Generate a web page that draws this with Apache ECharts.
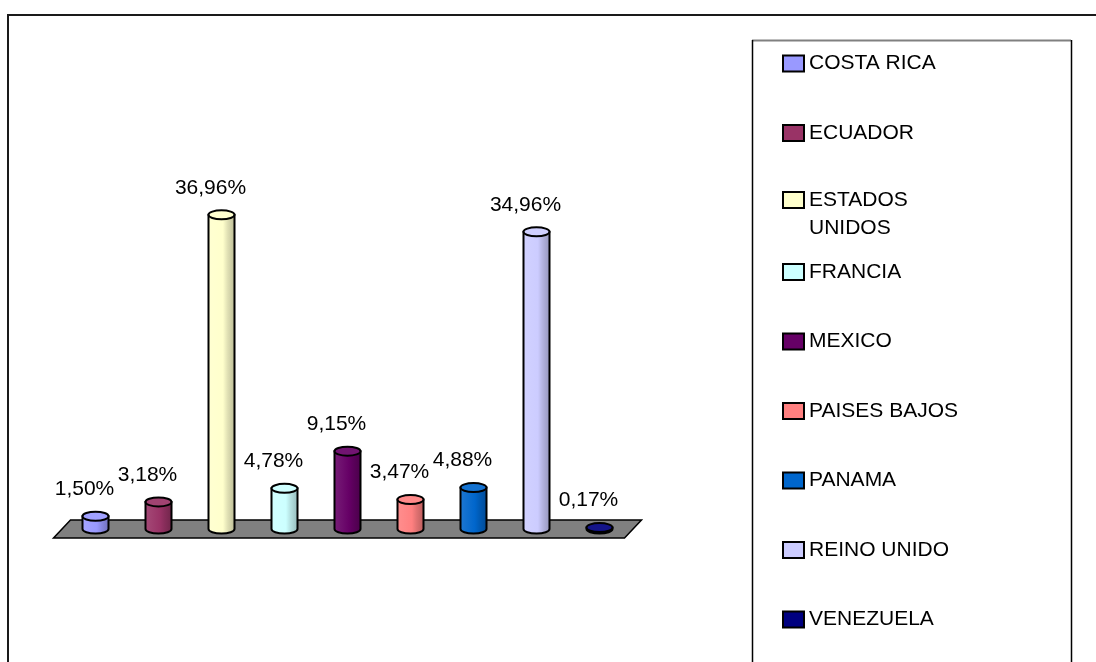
<!DOCTYPE html>
<html>
<head>
<meta charset="utf-8">
<title>Participación por país</title>
<script src="https://cdn.jsdelivr.net/npm/echarts@6/dist/echarts.min.js"></script>
<style>
  html, body { margin: 0; padding: 0; background: #fff; }
  #chart { width: 1096px; height: 662px; }
</style>
</head>
<body>
<div id="chart"></div>
<script>
// Countries and their share (percent)
const countries = ['COSTA RICA', 'ECUADOR', 'ESTADOS UNIDOS', 'FRANCIA', 'MEXICO',
                   'PAISES BAJOS', 'PANAMA', 'REINO UNIDO', 'VENEZUELA'];
const shares = [1.50, 3.18, 36.96, 4.78, 9.15, 3.47, 4.88, 34.96, 0.17];
const palette = ['#9999FF', '#993366', '#FFFFCC', '#CCFFFF', '#660066',
                 '#FF8080', '#0066CC', '#CCCCFF', '#000080'];

const FONT = 'Liberation Sans, Arial, sans-serif';
const FONT_SIZE = 21;

function shade(hex, f) {
  const n = parseInt(hex.slice(1), 16);
  let r = (n >> 16) & 255, g = (n >> 8) & 255, b = n & 255;
  if (f < 0) { r *= 1 + f; g *= 1 + f; b *= 1 + f; }
  else { r += (255 - r) * f; g += (255 - g) * f; b += (255 - b) * f; }
  return 'rgb(' + Math.round(r) + ',' + Math.round(g) + ',' + Math.round(b) + ')';
}

const K = 0.5523;
// half ellipse below a horizontal diameter, left to right
function lowerArc(cx, cy, rx, ry) {
  return 'C' + (cx - rx) + ',' + (cy + K * ry) + ' ' + (cx - K * rx) + ',' + (cy + ry) + ' ' + cx + ',' + (cy + ry) +
         'C' + (cx + K * rx) + ',' + (cy + ry) + ' ' + (cx + rx) + ',' + (cy + K * ry) + ' ' + (cx + rx) + ',' + cy;
}
function upperArc(cx, cy, rx, ry) {
  return 'C' + (cx + rx) + ',' + (cy - K * ry) + ' ' + (cx + K * rx) + ',' + (cy - ry) + ' ' + cx + ',' + (cy - ry) +
         'C' + (cx - K * rx) + ',' + (cy - ry) + ' ' + (cx - rx) + ',' + (cy - K * ry) + ' ' + (cx - rx) + ',' + cy;
}

function fmt(v) { return v.toFixed(2).replace('.', ',') + '%'; }

// 3D-looking cylinder for one country
function renderCylinder(params, api) {
  const idx = api.value(0);
  const val = api.value(1);
  const base = api.coord([idx, 0]);
  const top = api.coord([idx, val]);
  const cx = base[0], yb = base[1], yt = top[1];
  const rx = 13, ry = 4.5;
  const color = palette[params.seriesIndex - 1];
  const bodyPath = 'M' + (cx - rx) + ',' + yt + 'L' + (cx - rx) + ',' + yb +
                   lowerArc(cx, yb, rx, ry) + 'L' + (cx + rx) + ',' + yt + 'Z';
  const topPath = 'M' + (cx - rx) + ',' + yt + lowerArc(cx, yt, rx, ry) + upperArc(cx, yt, rx, ry) + 'Z';
  return {
    type: 'group',
    children: [
      {
        type: 'path',
        shape: { pathData: bodyPath },
        style: {
          fill: new echarts.graphic.LinearGradient(0, 0, 1, 0, [
            { offset: 0, color: shade(color, 0.12) },
            { offset: 0.55, color: color },
            { offset: 0.72, color: shade(color, -0.12) },
            { offset: 1, color: shade(color, -0.28) }
          ]),
          stroke: '#000',
          lineWidth: 2
        }
      },
      {
        type: 'path',
        shape: { pathData: topPath },
        style: { fill: shade(color, 0.08), stroke: '#000', lineWidth: 2 }
      },
      {
        type: 'text',
        style: {
          text: fmt(val),
          x: cx - 11,
          y: yt - 27,
          align: 'center',
          verticalAlign: 'middle',
          fill: '#000',
          font: FONT_SIZE + 'px ' + FONT
        }
      }
    ]
  };
}

// grey floor under the columns
function renderFloor(params, api) {
  const cs = params.coordSys;
  const y0 = api.coord([0, 0])[1];
  const xl = cs.x - 2, xr = cs.x + cs.width + 2;
  const dy = 9, dx = 8.5;
  return {
    type: 'polygon',
    shape: { points: [[xl + dx, y0 - dy], [xr + dx, y0 - dy], [xr - dx, y0 + dy], [xl - dx, y0 + dy]] },
    style: { fill: '#808080', stroke: '#000', lineWidth: 1.5 }
  };
}

const series = [{
  type: 'custom',
  name: 'floor',
  silent: true,
  renderItem: renderFloor,
  data: [[0, 0]],
  clip: false,
  z: 1
}];
countries.forEach((c, i) => {
  series.push({
    type: 'custom',
    name: c,
    renderItem: renderCylinder,
    itemStyle: { color: palette[i] },
    encode: { x: 0, y: 1 },
    data: [[i, shares[i]]],
    clip: false,
    z: 2
  });
});

// one legend block per entry so entries stay evenly spaced;
// the wrapped entry keeps its first line beside the swatch
// (an empty leading line centres "ESTADOS" on the swatch)
const LEG_TOP = 53, LEG_STEP = 69.5, LINE_H = 28, SW_H = 16;
const legends = countries.map((c, i) => {
  const twoLine = c === 'ESTADOS UNIDOS';
  const shift = twoLine ? (3 * LINE_H) / 2 - SW_H / 2 : 0;
  return {
    data: [c],
    left: 782,
    top: LEG_TOP + i * LEG_STEP - shift,
    orient: 'vertical',
    padding: 0,
    icon: 'rect',
    itemWidth: 21,
    itemHeight: SW_H,
    selectedMode: false,
    itemStyle: { borderColor: '#000', borderWidth: 2 },
    formatter: twoLine ? () => '\nESTADOS\nUNIDOS' : undefined,
    textStyle: Object.assign(
      { fontSize: FONT_SIZE, fontFamily: FONT, color: '#000' },
      twoLine ? { lineHeight: LINE_H } : {}
    )
  };
});

const chart = echarts.init(document.getElementById('chart'), null, { renderer: 'canvas' });
chart.setOption({
  backgroundColor: '#fff',
  animation: false,
  grid: { left: 64, right: 465, top: 189, bottom: 133 },
  xAxis: { type: 'category', data: countries, show: false },
  yAxis: { type: 'value', min: 0, max: 40, show: false },
  legend: legends,
  graphic: [
    // chart area frame
    { type: 'polyline', shape: { points: [[8, 700], [8, 15], [1100, 15]] },
      style: { stroke: '#1a1a1a', lineWidth: 2, fill: null } },
    // legend frame
    { type: 'line', shape: { x1: 752, y1: 40.5, x2: 1071, y2: 40.5 },
      style: { stroke: '#808080', lineWidth: 2 } },
    { type: 'line', shape: { x1: 752.5, y1: 40, x2: 752.5, y2: 700 },
      style: { stroke: '#000', lineWidth: 1.5 } },
    { type: 'line', shape: { x1: 1071.5, y1: 40, x2: 1071.5, y2: 700 },
      style: { stroke: '#000', lineWidth: 1.5 } }
  ],
  series: series
});
</script>
</body>
</html>
